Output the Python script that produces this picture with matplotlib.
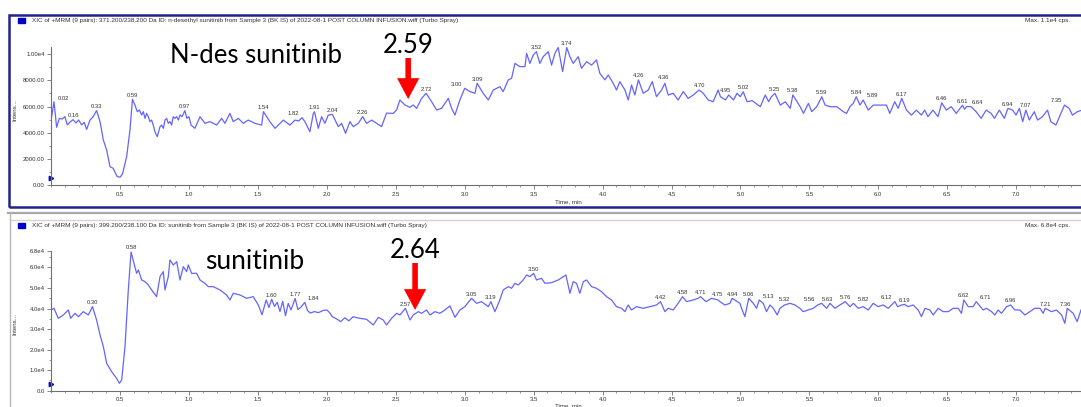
import numpy as np
import matplotlib
matplotlib.use('Agg')
import matplotlib.pyplot as plt
from matplotlib.patches import Rectangle
from matplotlib.lines import Line2D
from matplotlib.ticker import FixedLocator, FixedFormatter, MultipleLocator

# XIC traces: retention time (min) and intensity (cps)
top_time = [
    0.000, 0.021, 0.040, 0.060, 0.080, 0.100, 0.118, 0.140, 0.160, 0.180,
    0.200, 0.222, 0.240, 0.258, 0.282, 0.305, 0.330, 0.355, 0.379, 0.403,
    0.427, 0.451, 0.463, 0.480, 0.500, 0.518, 0.548, 0.572, 0.590, 0.608,
    0.625, 0.640, 0.657, 0.669, 0.681, 0.693, 0.705, 0.717, 0.729, 0.741,
    0.753, 0.770, 0.790, 0.802, 0.814, 0.826, 0.838, 0.850, 0.862, 0.874,
    0.886, 0.898, 0.911, 0.923, 0.935, 0.950, 0.970, 0.985, 1.000, 1.015,
    1.043, 1.080, 1.116, 1.152, 1.201, 1.237, 1.261, 1.297, 1.321, 1.358,
    1.394, 1.430, 1.479, 1.527, 1.540, 1.587, 1.624, 1.660, 1.684, 1.732,
    1.769, 1.795, 1.820, 1.841, 1.877, 1.902, 1.910, 1.938, 1.962, 1.986,
    2.010, 2.040, 2.083, 2.107, 2.136, 2.167, 2.192, 2.228, 2.260, 2.288,
    2.325, 2.361, 2.397, 2.433, 2.482, 2.506, 2.530, 2.566, 2.603, 2.627,
    2.651, 2.687, 2.720, 2.760, 2.796, 2.832, 2.881, 2.905, 2.929, 2.965,
    3.000, 3.038, 3.074, 3.090, 3.134, 3.171, 3.207, 3.255, 3.279, 3.316,
    3.340, 3.364, 3.400, 3.437, 3.449, 3.473, 3.497, 3.520, 3.545, 3.569,
    3.606, 3.630, 3.654, 3.678, 3.710, 3.740, 3.763, 3.787, 3.823, 3.847,
    3.884, 3.920, 3.956, 3.980, 4.017, 4.041, 4.077, 4.101, 4.125, 4.162,
    4.186, 4.210, 4.234, 4.260, 4.295, 4.331, 4.360, 4.391, 4.428, 4.452,
    4.476, 4.512, 4.548, 4.585, 4.621, 4.657, 4.700, 4.730, 4.766, 4.802,
    4.838, 4.855, 4.891, 4.915, 4.950, 4.975, 4.999, 5.020, 5.048, 5.084,
    5.144, 5.180, 5.204, 5.225, 5.250, 5.289, 5.325, 5.361, 5.380, 5.433,
    5.457, 5.493, 5.517, 5.553, 5.590, 5.614, 5.650, 5.698, 5.746, 5.770,
    5.794, 5.818, 5.840, 5.867, 5.890, 5.927, 5.963, 6.011, 6.059, 6.083,
    6.119, 6.144, 6.170, 6.204, 6.240, 6.276, 6.312, 6.336, 6.360, 6.396,
    6.433, 6.460, 6.493, 6.529, 6.565, 6.610, 6.625, 6.640, 6.673, 6.709,
    6.746, 6.782, 6.818, 6.842, 6.878, 6.914, 6.940, 6.974, 6.999, 7.023,
    7.047, 7.070, 7.095, 7.131, 7.155, 7.191, 7.227, 7.251, 7.288, 7.324,
    7.350, 7.384, 7.408, 7.444, 7.470,
]
top_int = [
    4970, 6370, 4420, 5100, 5050, 5230, 4600, 4850, 5000, 4750,
    4970, 4600, 4800, 4260, 4970, 5230, 5690, 4850, 3440, 2690,
    1420, 1290, 1000, 660, 620, 870, 2180, 4210, 6550, 6120,
    5610, 5740, 5360, 5610, 5100, 5480, 5230, 4850, 4970, 4590,
    4080, 3700, 4470, 4590, 4340, 4970, 5100, 4720, 4850, 4590,
    5230, 5100, 5230, 4970, 5360, 5230, 5690, 5100, 5230, 4590,
    4340, 5230, 4720, 4850, 4590, 5100, 4720, 5480, 4850, 5100,
    4720, 4970, 4720, 4590, 5610, 4850, 4340, 4720, 4970, 4590,
    4970, 4900, 5150, 4850, 4080, 5480, 5610, 4340, 5230, 4720,
    5350, 5400, 4470, 4720, 3960, 4850, 4470, 4720, 5230, 4720,
    4970, 4720, 4470, 5500, 5480, 5740, 6500, 6120, 5940, 6120,
    5860, 6620, 7010, 6370, 5740, 5860, 6620, 5860, 5350, 6500,
    7390, 7140, 7010, 7770, 7010, 6500, 7260, 7510, 7140, 8030,
    8150, 9290, 9040, 9040, 10050, 9290, 9930, 10180, 9290, 9800,
    10180, 9160, 10050, 10500, 8660, 10500, 9800, 9290, 9800, 8910,
    9420, 9160, 9550, 8530, 8030, 8410, 7770, 7260, 7900, 7260,
    6500, 7640, 6880, 8030, 7010, 7260, 7900, 6750, 7260, 7770,
    6880, 7010, 6500, 7140, 6620, 6880, 7260, 7010, 6500, 6370,
    7260, 6750, 6500, 6880, 6500, 7010, 6750, 7130, 6370, 6450,
    5990, 6880, 6370, 6750, 7010, 6110, 6370, 5860, 6880, 5990,
    5480, 6240, 5610, 5990, 6750, 6110, 5990, 5990, 5610, 5480,
    5990, 6240, 6750, 6110, 6500, 5730, 6110, 6110, 6110, 5480,
    6370, 5860, 6630, 5730, 5350, 5730, 5350, 5730, 5230, 5730,
    5230, 6290, 5730, 5990, 5480, 6100, 5800, 6000, 5990, 5610,
    5100, 5730, 5480, 5100, 5730, 5100, 5860, 5730, 5350, 5860,
    4850, 5730, 4970, 5610, 4970, 5230, 5730, 4850, 4590, 5480,
    6110, 5860, 5350, 5610, 5700,
]

bot_time = [
    0.000, 0.021, 0.052, 0.089, 0.125, 0.142, 0.173, 0.198, 0.234, 0.270,
    0.300, 0.330, 0.355, 0.379, 0.403, 0.439, 0.475, 0.495, 0.512, 0.536,
    0.560, 0.580, 0.608, 0.620, 0.633, 0.657, 0.681, 0.705, 0.729, 0.765,
    0.790, 0.814, 0.826, 0.850, 0.862, 0.886, 0.911, 0.935, 0.959, 0.983,
    0.995, 1.019, 1.056, 1.080, 1.116, 1.140, 1.176, 1.225, 1.273, 1.297,
    1.321, 1.370, 1.418, 1.466, 1.503, 1.530, 1.560, 1.580, 1.600, 1.620,
    1.640, 1.660, 1.680, 1.700, 1.720, 1.740, 1.770, 1.790, 1.810, 1.840,
    1.860, 1.880, 1.910, 1.940, 1.970, 2.000, 2.020, 2.040, 2.070, 2.100,
    2.130, 2.160, 2.190, 2.220, 2.240, 2.288, 2.337, 2.373, 2.409, 2.433,
    2.470, 2.506, 2.530, 2.570, 2.603, 2.627, 2.663, 2.687, 2.723, 2.748,
    2.784, 2.820, 2.856, 2.893, 2.929, 2.965, 3.001, 3.050, 3.086, 3.122,
    3.171, 3.190, 3.219, 3.255, 3.279, 3.316, 3.340, 3.364, 3.388, 3.424,
    3.449, 3.473, 3.500, 3.521, 3.557, 3.582, 3.630, 3.678, 3.715, 3.734,
    3.763, 3.787, 3.811, 3.835, 3.860, 3.884, 3.920, 3.956, 3.992, 4.029,
    4.065, 4.101, 4.138, 4.162, 4.186, 4.210, 4.246, 4.295, 4.343, 4.391,
    4.420, 4.452, 4.476, 4.512, 4.548, 4.580, 4.609, 4.657, 4.693, 4.710,
    4.750, 4.790, 4.838, 4.851, 4.887, 4.924, 4.940, 4.996, 5.008, 5.032,
    5.060, 5.093, 5.117, 5.136, 5.165, 5.189, 5.214, 5.238, 5.267, 5.286,
    5.320, 5.359, 5.395, 5.431, 5.455, 5.492, 5.528, 5.560, 5.588, 5.625,
    5.650, 5.685, 5.721, 5.760, 5.794, 5.820, 5.854, 5.890, 5.927, 5.963,
    5.999, 6.035, 6.072, 6.120, 6.140, 6.168, 6.190, 6.215, 6.253, 6.289,
    6.313, 6.338, 6.374, 6.398, 6.434, 6.471, 6.507, 6.543, 6.579, 6.603,
    6.620, 6.652, 6.688, 6.710, 6.760, 6.785, 6.821, 6.845, 6.869, 6.893,
    6.930, 6.960, 6.990, 7.026, 7.063, 7.099, 7.135, 7.172, 7.196, 7.210,
    7.256, 7.292, 7.329, 7.353, 7.370, 7.413, 7.442, 7.470,
]
bot_int = [
    39290, 40100, 35230, 36860, 39290, 35230, 37670, 36040, 38480, 36860,
    40910, 34420, 27120, 21440, 13320, 9270, 6020, 3590, 5210, 21440,
    49030, 67500, 60390, 57140, 58760, 53890, 53080, 51460, 49030, 45780,
    55520, 57950, 49030, 55520, 63630, 61200, 62820, 53890, 60390, 57950,
    61200, 57140, 57140, 53890, 52270, 50650, 50650, 49030, 46590, 44160,
    47400, 46590, 44970, 45780, 41720, 37000, 44160, 40500, 44500, 41000,
    43000, 38500, 43500, 36500, 42500, 39300, 44900, 39500, 40500, 43000,
    39000, 37800, 38500, 38000, 39000, 39300, 38000, 36000, 35000, 33600,
    35500, 34000, 36000, 35500, 35230, 34750, 31990, 35720, 34420, 31990,
    35230, 37670, 36860, 40100, 34420, 36860, 38480, 37670, 39290, 36860,
    38480, 37670, 39290, 41240, 35720, 39290, 40910, 44970, 42530, 43350,
    40910, 43350, 38480, 44160, 49030, 50650, 49840, 52270, 51460, 53890,
    56330, 55520, 57140, 53890, 54710, 52270, 52600, 53890, 55520, 56330,
    47400, 53080, 52270, 47400, 53080, 53890, 50650, 49840, 48210, 45780,
    44160, 40910, 40100, 38480, 41720, 39290, 40910, 40100, 40910, 41720,
    43350, 38480, 40100, 39290, 42530, 45780, 43350, 44160, 44970, 45780,
    43350, 44970, 44160, 43350, 41720, 42530, 44970, 42530, 40100, 36040,
    44970, 42530, 40100, 44160, 42530, 38480, 41720, 40100, 36860, 40100,
    41720, 42530, 41720, 40100, 38480, 39290, 40100, 41720, 42530, 40100,
    42530, 40100, 41720, 43350, 40910, 42530, 40100, 40910, 39290, 42530,
    40910, 41720, 40100, 43350, 40910, 41720, 42000, 40910, 41720, 39290,
    36040, 40100, 39290, 36860, 40100, 38480, 38480, 40100, 40100, 37670,
    44160, 40910, 40910, 43350, 39290, 40100, 38480, 36860, 39290, 37670,
    40910, 41720, 39290, 39290, 36860, 38480, 40100, 40100, 37670, 40100,
    38480, 39290, 36860, 32800, 40100, 37670, 33610, 39290,
]

# apex labels written by the software
top_peaks = [0.02, 0.16, 0.33, 0.59, 0.97, 1.54, 1.82, 1.91, 2.04, 2.26,
             2.72, 3.00, 3.09, 3.52, 3.74, 4.26, 4.36, 4.70, 4.95, 5.02,
             5.25, 5.38, 5.59, 5.84, 5.89, 6.17, 6.46, 6.61, 6.64, 6.94,
             7.07, 7.35]
bot_peaks = [0.30, 0.58, 1.60, 1.77, 1.84, 2.57, 3.05, 3.19, 3.50, 4.42,
             4.58, 4.71, 4.75, 4.94, 5.06, 5.13, 5.32, 5.56, 5.63, 5.76,
             5.82, 6.12, 6.19, 6.62, 6.71, 6.96, 7.21, 7.36]
# labels pushed sideways (points) to keep crowded apex labels apart
top_shift = {0.02: 7, 1.82: -6, 3.00: -6, 4.36: 8, 4.95: -6, 5.89: 7, 6.64: 8, 7.35: -6}
bot_shift = {1.84: 6, 4.75: 8, 5.13: 7, 5.56: -6, 5.82: 7, 6.12: -6, 6.71: 7}

top_yticks = [0, 2000, 4000, 6000, 8000, 10000]
top_ylabels = ['0.00', '2000.00', '4000.00', '6000.00', '8000.00', '1.00e4']
bot_yticks = [0, 10000, 20000, 30000, 40000, 50000, 60000, 68000]
bot_ylabels = ['0.0', '1.0e4', '2.0e4', '3.0e4', '4.0e4', '5.0e4', '6.0e4', '6.8e4']
xticks = [0.5, 1.0, 1.5, 2.0, 2.5, 3.0, 3.5, 4.0, 4.5, 5.0, 5.5, 6.0, 6.5, 7.0]

top_header = ('XIC of +MRM (9 pairs): 371.200/238.200 Da ID: n-desethyl sunitinib from '
              'Sample 3 (BK IS) of 2022-08-1 POST COLUMN INFUSION.wiff (Turbo Spray)')
bot_header = ('XIC of +MRM (9 pairs): 399.200/238.100 Da ID: sunitinib from '
              'Sample 3 (BK IS) of 2022-08-1 POST COLUMN INFUSION.wiff (Turbo Spray)')

plt.rcParams['font.family'] = ['Liberation Sans', 'DejaVu Sans']

W, H = 1081, 407
fig = plt.figure(figsize=(W / 100, H / 100), dpi=100)


def fx(px):
    return px / W


def fy(py):
    return 1 - py / H


trace_col = '#6464ff'
axis_col = '#707070'
text_col = '#333333'

# pane frames
fig.add_artist(Rectangle((fx(8.5), fy(207)), 1.2, (207 - 14.5) / H, fill=False,
                         ec='#23238f', lw=1.8, transform=fig.transFigure))
fig.add_artist(Line2D([fx(8), 1], [fy(212.5), fy(212.5)], color='#a8a8a8', lw=1.6,
                      transform=fig.transFigure))
fig.add_artist(Line2D([fx(10), 1], [fy(219.5), fy(219.5)], color='#d4d4d4', lw=1.0,
                      transform=fig.transFigure))
fig.add_artist(Line2D([fx(10), fx(10)], [fy(213), 0], color='#b8b8b8', lw=1.0,
                      transform=fig.transFigure))

for hy, txt, mx in [(20.5, top_header, 'Max. 1.1e4 cps.'),
                    (225.5, bot_header, 'Max. 6.8e4 cps.')]:
    fig.add_artist(Rectangle((fx(18), fy(hy + 2.3)), 7 / W, 4.6 / H, color='#0000c8',
                             transform=fig.transFigure))
    fig.text(fx(32), fy(hy), txt, fontsize=4.6, va='center', ha='left', color=text_col)
    fig.text(fx(1025), fy(hy), mx, fontsize=4.6, va='center', ha='left', color=text_col)

ax1 = fig.add_axes([fx(51.1), fy(185.3), 1 - fx(51.1), (185.3 - 46.7) / H])
ax2 = fig.add_axes([fx(51.1), fy(390.7), 1 - fx(51.1), (390.7 - 251) / H])

panes = [
    (ax1, top_time, top_int, top_peaks, top_shift, top_yticks, top_ylabels,
     10560, 1000, 0.543, -0.1205),
    (ax2, bot_time, bot_int, bot_peaks, bot_shift, bot_yticks, bot_ylabels,
     68000, 5000, 0.477, -0.1095),
]

for ax, t, inten, peaks, shift, yt, yl, ymax, yminor, ylab_y, xlab_y in panes:
    t = np.array(t)
    inten = np.array(inten)
    ax.plot(t, inten, color=trace_col, lw=0.9)
    ax.set_xlim(0, 7.47)
    ax.set_ylim(0, ymax)
    ax.patch.set_alpha(0)
    for s in ('top', 'right'):
        ax.spines[s].set_visible(False)
    for s in ('left', 'bottom'):
        ax.spines[s].set_color(axis_col)
        ax.spines[s].set_linewidth(0.8)
    ax.xaxis.set_major_locator(FixedLocator(xticks))
    ax.xaxis.set_major_formatter(FixedFormatter(['%.1f' % v for v in xticks]))
    ax.xaxis.set_minor_locator(MultipleLocator(0.1))
    ax.yaxis.set_major_locator(FixedLocator(yt))
    ax.yaxis.set_major_formatter(FixedFormatter(yl))
    ax.yaxis.set_minor_locator(MultipleLocator(yminor))
    ax.tick_params(which='major', length=3, width=0.6, color=axis_col,
                   labelsize=4.3, labelcolor=text_col, pad=1.5)
    ax.tick_params(which='minor', length=1.6, width=0.5, color=axis_col)
    ax.set_xlabel('Time, min', fontsize=4.4, color=text_col)
    ax.xaxis.set_label_coords(0.502, xlab_y)
    ax.xaxis.label.set_va('center')
    ax.set_ylabel('Intens...', fontsize=4.4, color=text_col)
    ax.yaxis.set_label_coords(-0.035, ylab_y)
    ax.yaxis.label.set_va('center')
    ax.plot([0], [0.05], marker='>', ms=3.2, color='#10109a', transform=ax.transAxes,
            clip_on=False)

    # apex labels sit just above the local maximum
    for p in peaks:
        apex = np.interp(np.linspace(p - 0.02, p + 0.02, 9), t, inten).max()
        ax.annotate('%.2f' % p, (p, apex), xytext=(shift.get(p, 0), 1.2),
                    textcoords='offset points', ha='center', va='bottom',
                    fontsize=4.2, color=text_col, annotation_clip=False)

# compound names and the marked retention times
big = dict(family=['Lato', 'DejaVu Sans'], color='black')
ax1.text(0.862, 9340, 'N-des sunitinib', fontsize=18.5, ha='left', va='baseline', **big)
ax2.text(1.116, 59100, 'sunitinib', fontsize=19, ha='left', va='baseline', **big)

arrow = dict(arrowstyle='simple,head_length=0.75,head_width=0.8,tail_width=0.2',
             fc='#ff0000', ec='#ff0000', lw=0, mutation_scale=20, shrinkA=0, shrinkB=0)
for ax, rt, tail, tip, lab_y in [(ax1, 2.59, 9700, 6575, 10100),
                                 (ax2, 2.64, 62160, 39290, 64450)]:
    ax.annotate('', xy=(rt, tip), xytext=(rt, tail), arrowprops=arrow,
                annotation_clip=False)
    ax.text(rt, lab_y, '%.2f' % rt, fontsize=18.5, ha='center', va='baseline',
            clip_on=False, **big)

fig.savefig('out.png', dpi=100)
